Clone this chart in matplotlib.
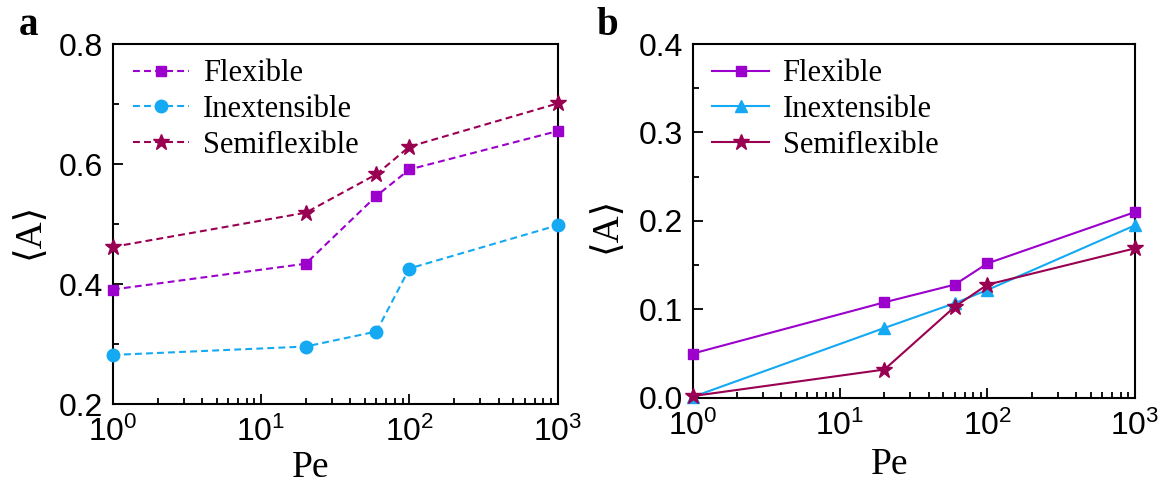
import numpy as np
import matplotlib.pyplot as plt
from matplotlib.ticker import MultipleLocator, LogLocator, NullFormatter

plt.rcParams['font.family'] = ['Liberation Sans', 'DejaVu Sans']
plt.rcParams['mathtext.fontset'] = 'custom'
plt.rcParams['mathtext.rm'] = 'Liberation Sans'
plt.rcParams['mathtext.it'] = 'Liberation Sans'

# Data
pe = [1, 20, 60, 100, 1000]
labels = ['Flexible', 'Inextensible', 'Semiflexible']

a_flexible = [0.391, 0.434, 0.547, 0.591, 0.655]
a_inextensible = [0.282, 0.296, 0.321, 0.426, 0.498]
a_semiflexible = [0.462, 0.519, 0.583, 0.629, 0.701]

b_flexible = [0.050, 0.108, 0.128, 0.152, 0.210]
b_inextensible = [0.001, 0.079, 0.107, 0.122, 0.195]
b_semiflexible = [0.002, 0.032, 0.103, 0.128, 0.169]

colors = ['#9b00cc', '#14a9f2', '#990052']
markers_a = ['s', 'o', '*']
markers_b = ['s', '^', '*']
msizes = {'s': 7.5, 'o': 9, '^': 8.5, '*': 12}

serif = ['Liberation Serif', 'DejaVu Serif']
tick_fs = 23
label_fs = 27
legend_fs = 22

fig = plt.figure(figsize=(11.64, 4.84), dpi=100)
ax_a = fig.add_axes([0.097, 0.165, 0.382, 0.744])
ax_b = fig.add_axes([0.595, 0.178, 0.380, 0.731])


def style_axis(ax, ylim, major, minor, xlab_pos, ylab_pos):
    ax.set_xscale('log')
    ax.set_xlim(1, 1000)
    ax.set_ylim(*ylim)
    ax.yaxis.set_major_locator(MultipleLocator(major))
    ax.yaxis.set_minor_locator(MultipleLocator(minor))
    ax.yaxis.set_major_formatter(plt.FuncFormatter(lambda v, p: f'{v:.1f}'))
    ax.xaxis.set_major_locator(LogLocator(base=10, numticks=10))
    ax.xaxis.set_minor_locator(LogLocator(base=10, subs=np.arange(2, 10), numticks=20))
    ax.xaxis.set_minor_formatter(NullFormatter())
    ax.tick_params(which='both', direction='in', top=False, right=False,
                   labelsize=tick_fs, width=1.3)
    ax.tick_params(which='major', length=7)
    ax.tick_params(axis='y', which='major', pad=7)
    ax.tick_params(axis='x', which='major', pad=9)
    ax.tick_params(which='minor', length=4)
    for s in ax.spines.values():
        s.set_linewidth(1.5)
    ax.set_xlabel('Pe', family=serif, fontsize=label_fs)
    ax.set_ylabel('⟨A⟩', family=serif, fontsize=label_fs)
    ax.xaxis.set_label_coords(*xlab_pos)
    ax.yaxis.set_label_coords(*ylab_pos)


series_a = [a_flexible, a_inextensible, a_semiflexible]
for vals, lab, c, m in zip(series_a, labels, colors, markers_a):
    ax_a.plot(pe, vals, linestyle='--', dashes=(3.3, 2), color=c, marker=m,
              markersize=msizes[m], linewidth=1.5, label=lab, clip_on=False, zorder=3)
style_axis(ax_a, (0.2, 0.8), 0.2, 0.1, (0.445, -0.13), (-0.15, 0.48))

series_b = [b_flexible, b_inextensible, b_semiflexible]
for vals, lab, c, m in zip(series_b, labels, colors, markers_b):
    ax_b.plot(pe, vals, linestyle='-', color=c, marker=m,
              markersize=msizes[m], linewidth=1.5, label=lab, clip_on=False, zorder=3)
style_axis(ax_b, (0.0, 0.4), 0.1, 0.05, (0.446, -0.14), (-0.155, 0.49))

for ax in (ax_a, ax_b):
    ax.legend(loc='upper left', frameon=False, prop={'family': serif, 'size': legend_fs},
              handlelength=1.85, labelspacing=0.22, handletextpad=0.45,
              borderaxespad=0.1, bbox_to_anchor=(0.01, 1.0))

fig.text(0.016, 0.948, 'a', family=serif, fontweight='bold', fontsize=28, va='center')
fig.text(0.512, 0.948, 'b', family=serif, fontweight='bold', fontsize=28, va='center')

plt.savefig('out.png', dpi=100)
plt.close()
